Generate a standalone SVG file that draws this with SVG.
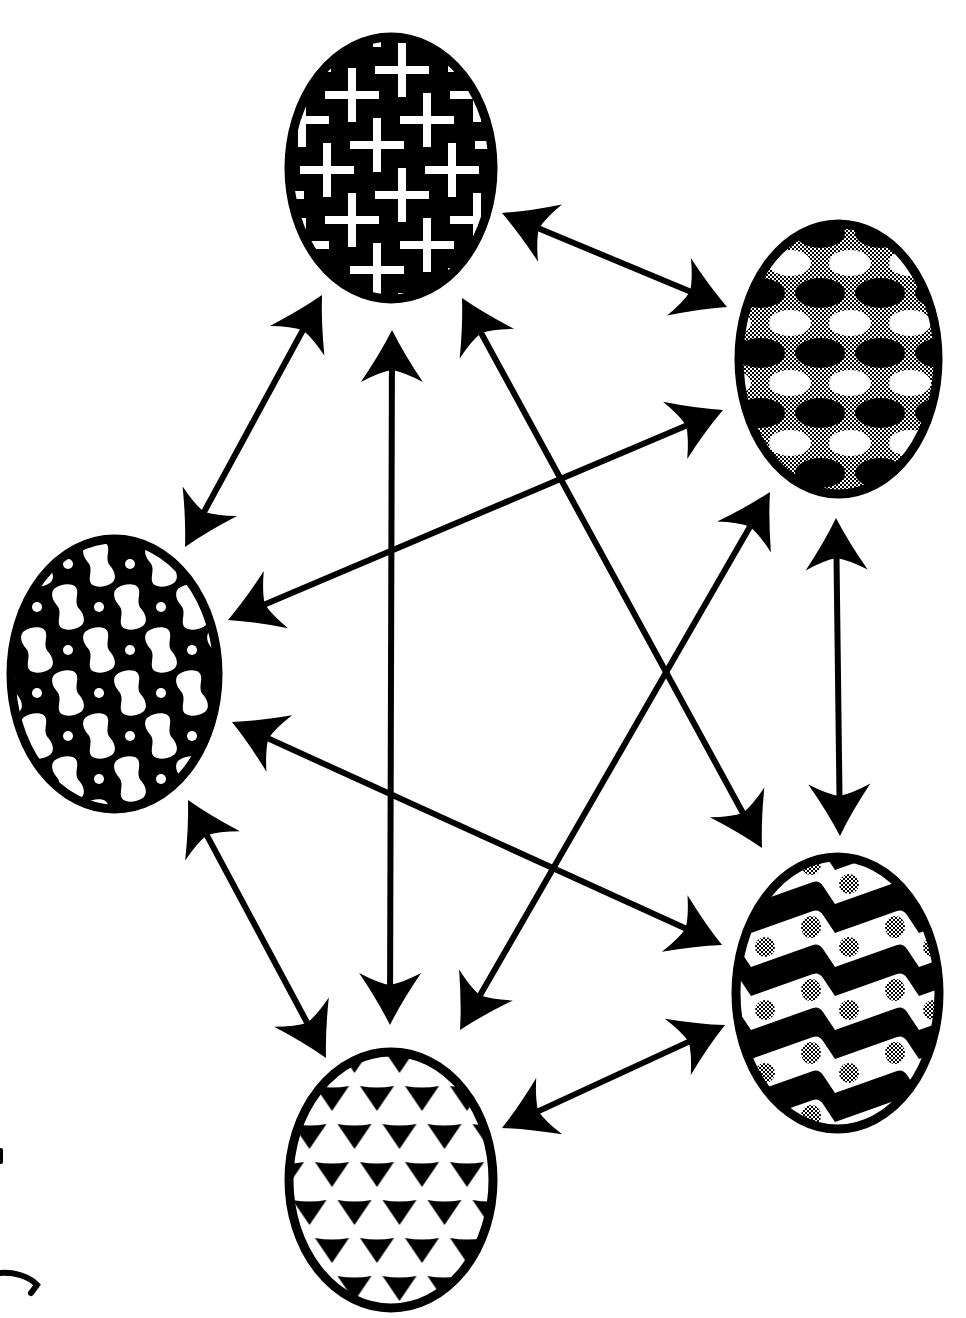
<svg xmlns="http://www.w3.org/2000/svg" xmlns:xlink="http://www.w3.org/1999/xlink" width="966" height="1318" viewBox="0 0 966 1318">
<style>
.node{stroke:#000;stroke-width:9}
.edge{stroke:#000;stroke-width:6;fill:none;marker-start:url(#ah);marker-end:url(#ah)}
.stray{stroke:#000;fill:none;stroke-linecap:round}
</style>
<defs>
<marker id="ah" markerUnits="userSpaceOnUse" orient="auto-start-reverse" markerWidth="60" markerHeight="70" refX="0" refY="0" style="overflow:visible">
<path d="M14,0 Q-10,-12 -38,-31 Q-28,-12 -26,0 Q-28,12 -38,31 Q-10,12 14,0 Z" fill="#000"/>
</marker>
<path id="cross" d="M-27,-4 h23 v-23 h8 v23 h23 v8 h-23 v23 h-8 v-23 h-23 Z" fill="#fff"/>
<path id="blob" transform="rotate(-12)" d="M-9,-21 C-2,-24 7,-23 11,-19 C16,-12 5,-4 11,5 C15,13 13,19 9,21 C2,24 -7,23 -11,19 C-16,12 -5,4 -11,-5 C-15,-13 -13,-19 -9,-21 Z" fill="#fff"/>
<path id="tri" d="M-17,-11 Q0,-8 17,-11 L0,14 Z" fill="#000"/>
<pattern id="pHalf" patternUnits="userSpaceOnUse" width="4" height="4">
<rect width="4" height="4" fill="#fff"/>
<rect width="2" height="2" fill="#000"/>
<rect x="2" y="2" width="2" height="2" fill="#000"/>
</pattern>
<pattern id="pCross" patternUnits="userSpaceOnUse" x="15" y="58" width="125" height="125">
<rect width="125" height="125" fill="#000"/>
<use xlink:href="#cross" x="12" y="12"/>
<use xlink:href="#cross" x="137" y="12"/>
<use xlink:href="#cross" x="12" y="137"/>
<use xlink:href="#cross" x="137" y="137"/>
<use xlink:href="#cross" x="37" y="62"/>
<use xlink:href="#cross" x="62" y="112"/>
<use xlink:href="#cross" x="62" y="-13"/>
<use xlink:href="#cross" x="87" y="37"/>
<use xlink:href="#cross" x="112" y="87"/>
<use xlink:href="#cross" x="-13" y="87"/>
</pattern>
<pattern id="pCheck" patternUnits="userSpaceOnUse" x="40" y="8" width="60" height="60">
<rect width="60" height="60" fill="url(#pHalf)"/>
<ellipse cx="30" cy="15" rx="21" ry="13" fill="#fff"/>
<ellipse cx="0" cy="45" rx="25" ry="15" fill="#000"/>
<ellipse cx="60" cy="45" rx="25" ry="15" fill="#000"/>
</pattern>
<pattern id="pNet" patternUnits="userSpaceOnUse" x="6" y="48" width="62" height="86">
<rect width="62" height="86" fill="#000"/>
<use xlink:href="#blob" x="31" y="0"/>
<use xlink:href="#blob" x="31" y="86"/>
<use xlink:href="#blob" x="0" y="43"/>
<use xlink:href="#blob" x="62" y="43"/>
<circle cx="0" cy="0" r="5" fill="#fff"/>
<circle cx="62" cy="0" r="5" fill="#fff"/>
<circle cx="0" cy="86" r="5" fill="#fff"/>
<circle cx="62" cy="86" r="5" fill="#fff"/>
<circle cx="31" cy="43" r="5" fill="#fff"/>
</pattern>
<pattern id="pWave" patternUnits="userSpaceOnUse" x="-5" y="27" width="84" height="63">
<rect width="84" height="63" fill="#000"/>
<path d="M0,24 L62,2 Q68,0 72,6 L84,24 L84,58 L72,40 Q68,34 62,36 L0,58 Z" fill="#fff"/>
<path d="M0,87 L62,65 Q68,63 72,69 L84,87 L84,121 L72,103 Q68,97 62,99 L0,121 Z" fill="#fff"/>
<path d="M0,-39 L62,-61 Q68,-63 72,-57 L84,-39 L84,-5 L72,-23 Q68,-29 62,-27 L0,-5 Z" fill="#fff"/>
<ellipse cx="60" cy="18" rx="10" ry="11" fill="url(#pHalf)"/>
<ellipse cx="14" cy="38" rx="10" ry="10" fill="url(#pHalf)"/>
</pattern>
<pattern id="pTri" patternUnits="userSpaceOnUse" x="-5.5" y="14" width="45" height="76">
<rect width="45" height="76" fill="#fff"/>
<use xlink:href="#tri" x="22.5" y="19"/>
<use xlink:href="#tri" x="0" y="57"/>
<use xlink:href="#tri" x="45" y="57"/>
</pattern>
</defs>
<rect width="966" height="1318" fill="#fff"/>
<g id="connectors">
<line class="edge" x1="315.3" y1="307.3" x2="191.7" y2="534.7"/>
<line class="edge" x1="392" y1="344" x2="390" y2="1011"/>
<line class="edge" x1="514.9" y1="218.4" x2="714.1" y2="301.6"/>
<line class="edge" x1="468.7" y1="310.3" x2="755.3" y2="835.7"/>
<line class="edge" x1="710.1" y1="415.5" x2="240.9" y2="614.5"/>
<line class="edge" x1="763" y1="504.1" x2="467" y2="1017.9"/>
<line class="edge" x1="836.2" y1="532" x2="839.8" y2="822"/>
<line class="edge" x1="244.7" y1="727.8" x2="709.3" y2="939.2"/>
<line class="edge" x1="194.6" y1="812.3" x2="319.4" y2="1045.7"/>
<line class="edge" x1="514.7" y1="1122.1" x2="712.3" y2="1030.9"/>
</g>
<g id="node-top"><ellipse class="node" cx="391" cy="168" rx="102" ry="131" fill="url(#pCross)"/></g>
<g id="node-right-top"><ellipse class="node" cx="838.5" cy="359" rx="99.5" ry="135" fill="url(#pCheck)"/></g>
<g id="node-left"><ellipse class="node" cx="114.5" cy="674" rx="103.5" ry="135" fill="url(#pNet)"/></g>
<g id="node-right-bottom"><ellipse class="node" cx="837.5" cy="993" rx="101.5" ry="136" fill="url(#pWave)"/></g>
<g id="node-bottom"><ellipse class="node" cx="391" cy="1180" rx="102" ry="128" fill="url(#pTri)"/></g>
<g id="marks">
<path class="stray" stroke-width="4" d="M1,1150 L1,1162"/>
<path class="stray" stroke-width="6" d="M0,1273 C14,1272 29,1276 37,1285 L31,1293"/>
</g>
</svg>
